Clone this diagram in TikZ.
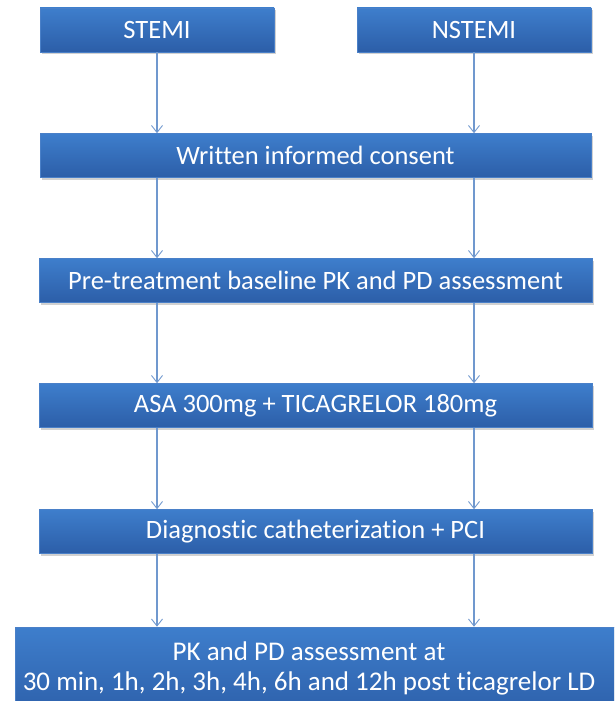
\documentclass[tikz,border=0pt]{standalone}
\usepackage{fontspec}
\setmainfont[Ligatures=NoCommon]{Carlito}
\usetikzlibrary{arrows.meta,shadows}
\definecolor{boxtop}{RGB}{62,126,204}
\definecolor{boxbot}{RGB}{44,94,168}
\definecolor{boxborder}{RGB}{74,128,200}
\definecolor{arrowc}{RGB}{112,152,206}
\tikzset{
  flowbox/.style={draw=boxborder, line width=0.6pt, top color=boxtop, bottom color=boxbot,
    text=white, font=\fontsize{26.5}{30}\selectfont, minimum height=44pt, inner sep=0pt,
    drop shadow={shadow xshift=1.5pt, shadow yshift=-2.5pt, opacity=0.3, fill=black!60}},
  flowarrow/.style={draw=arrowc, line width=1.1pt, -{Straight Barb[length=7pt,width=11pt,line width=0.9pt]}},
}
\begin{document}
\begin{tikzpicture}[x=1pt,y=-1pt]
\useasboundingbox (0,0) rectangle (614,701);
\clip (0,0) rectangle (614,701);
\node[flowbox, minimum width=234pt] (stemi) at (157,30) {STEMI};
\node[flowbox, minimum width=234pt] (nstemi) at (474,30) {NSTEMI};
\node[flowbox, minimum width=551pt] (wic) at (315.5,155.5) {Written informed consent};
\node[flowbox, minimum width=553pt] (pre) at (315.5,280.5) {Pre-treatment baseline PK and PD assessment};
\node[flowbox, minimum width=553pt] (asa) at (315.5,405.5) {ASA 300mg + TICAGRELOR 180mg};
\node[flowbox, minimum width=553pt] (diag) at (315.5,531.5) {Diagnostic catheterization + PCI};
\node[flowbox, minimum width=625pt, minimum height=93pt] (fin) at (327.5,673.5) {};
\node[text=white, font=\fontsize{27}{30}\selectfont, align=center, inner sep=0pt] (fintext) at (309,668)
  {PK and PD assessment at\\30 min, 1h, 2h, 3h, 4h, 6h and 12h post ticagrelor LD};
\draw[flowarrow] (stemi.south) -- (wic.north -| stemi.south);
\draw[flowarrow] (nstemi.south) -- (wic.north -| nstemi.south);
\draw[flowarrow] (wic.south -| stemi.south) -- (pre.north -| stemi.south);
\draw[flowarrow] (wic.south -| nstemi.south) -- (pre.north -| nstemi.south);
\draw[flowarrow] (pre.south -| stemi.south) -- (asa.north -| stemi.south);
\draw[flowarrow] (pre.south -| nstemi.south) -- (asa.north -| nstemi.south);
\draw[flowarrow] (asa.south -| stemi.south) -- (diag.north -| stemi.south);
\draw[flowarrow] (asa.south -| nstemi.south) -- (diag.north -| nstemi.south);
\draw[flowarrow] (diag.south -| stemi.south) -- (fin.north -| stemi.south);
\draw[flowarrow] (diag.south -| nstemi.south) -- (fin.north -| nstemi.south);
\end{tikzpicture}
\end{document}
